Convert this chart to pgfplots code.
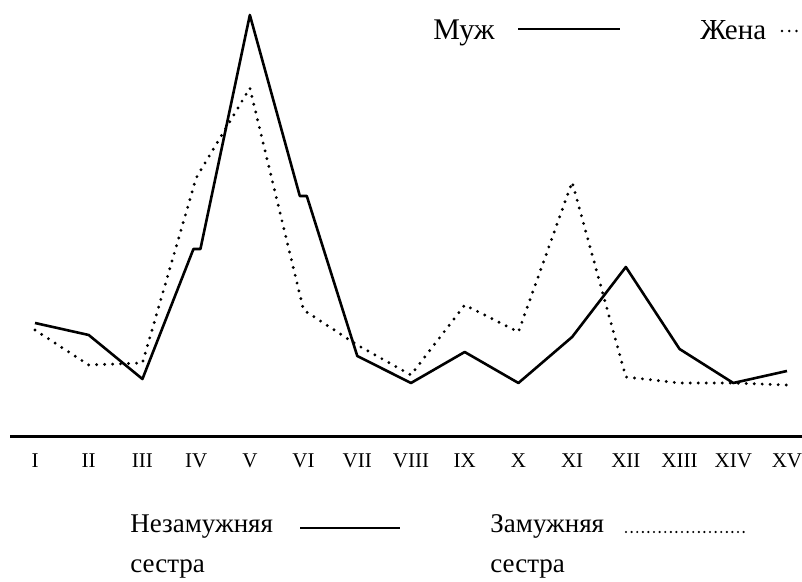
\documentclass[border=0pt]{standalone}
\usepackage{pgfplots}
\pgfplotsset{compat=1.18}
\usepackage{fontspec}
\setmainfont{Liberation Serif}
\begin{document}
\begin{tikzpicture}
\begin{axis}[
  at={(0pt,0pt)}, anchor=south west,
  scale only axis, width=396pt, height=218.5pt,
  xmin=0.5345, xmax=15.28, ymin=0, ymax=437,
  axis x line*=bottom, axis y line=none,
  axis line style={line width=1.5pt, -},
  xtick={1,...,15},
  xticklabels={I,II,III,IV,V,VI,VII,VIII,IX,X,XI,XII,XIII,XIV,XV},
  major tick length=0pt,
  ytick=\empty,
  xticklabel style={font=\fontsize{10.5}{12}\selectfont, anchor=center, yshift=-12pt},
  clip=false,
]
\addplot[black, line width=1.3pt, line join=round] coordinates {
 (1,114) (2,102) (3,58) (3.95,188) (4.08,188) (5,422) (5.93,241) (6.06,241)
 (7,81) (8,54) (9,85) (10,54) (11,100) (12,170) (13,88) (14,54) (15,66)};
\addplot[black, line width=1.6pt, dash pattern=on 0pt off 4pt, line cap=round, line join=round] coordinates {
 (1,107) (2,72) (3,74) (4,259) (5,349) (6,127) (7,92) (8,62) (9,132) (10,105)
 (11,255) (12,60) (13,54) (14,54) (15,52)};
\end{axis}
% top legend
\node[anchor=base east, inner sep=0pt, font=\fontsize{15}{17}\selectfont] at (242.5pt,198.5pt) {Муж};
\draw[line width=1.3pt] (254pt,204pt) -- (305pt,204pt);
\node[anchor=base west, inner sep=0pt, font=\fontsize{14.5}{17}\selectfont] at (345pt,198.5pt) {Жена};
\draw[line width=1.4pt, dash pattern=on 0pt off 3.6pt, line cap=round] (386pt,203pt) -- (396pt,203pt);
% bottom legend
\node[anchor=base west, inner sep=0pt, font=\fontsize{13.5}{15}\selectfont] at (60pt,-48pt) {Незамужняя};
\node[anchor=base west, inner sep=0pt, font=\fontsize{13.5}{15}\selectfont] at (60pt,-68pt) {сестра};
\draw[line width=1.3pt] (145pt,-45.5pt) -- (195pt,-45.5pt);
\node[anchor=base west, inner sep=0pt, font=\fontsize{13.5}{15}\selectfont] at (240pt,-48pt) {Замужняя};
\node[anchor=base west, inner sep=0pt, font=\fontsize{13.5}{15}\selectfont] at (240pt,-68pt) {сестра};
\draw[line width=1.2pt, dash pattern=on 0pt off 2.8pt, line cap=round] (308pt,-47.5pt) -- (369pt,-47.5pt);
\pgfresetboundingbox
\path (-5pt,-72.5pt) rectangle (396pt,218.5pt);
\end{tikzpicture}
\end{document}
